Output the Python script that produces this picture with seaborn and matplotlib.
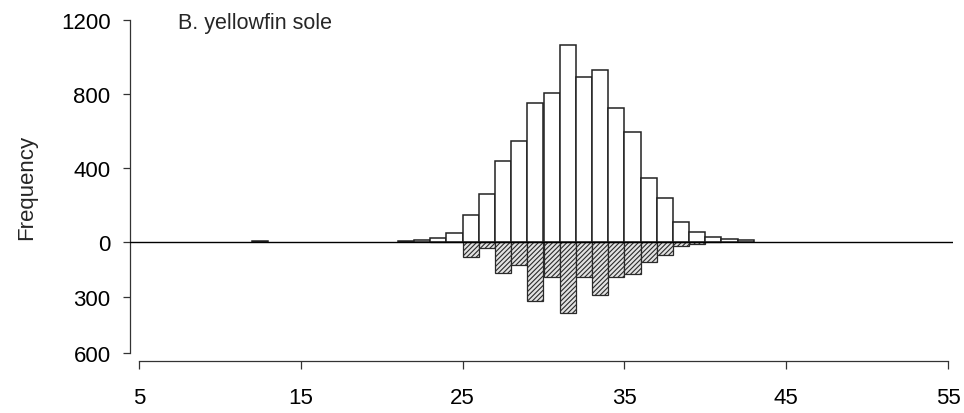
import numpy as np
import pandas as pd
import matplotlib
matplotlib.use("Agg")
import matplotlib.pyplot as plt
import seaborn as sns

# ---- data (length bins, lower edge in cm) ----
upper_len = [12, 21, 22, 23, 24, 25, 26, 27, 28, 29, 30, 31, 32, 33, 34, 35, 36, 37, 38, 39, 40, 41, 42]
upper_n = [3, 2, 8, 18, 45, 144, 257, 437, 544, 752, 804, 1062, 888, 927, 723, 595, 346, 234, 108, 54, 25, 12, 8]

lower_len = [23, 24, 25, 26, 27, 28, 29, 30, 31, 32, 33, 34, 35, 36, 37, 38, 39, 40]
lower_n = [5, 5, 86, 33, 168, 128, 324, 192, 384, 192, 287, 192, 178, 110, 73, 24, 13, 3]

ytick_pos = [1200, 800, 400, 0, -300, -600]
ytick_lab = ["1200", "800", "400", "0", "300", "600"]
xticks = [5, 15, 25, 35, 45, 55]
title = "B. yellowfin sole"

sns.set_theme(style="ticks")
plt.rcParams["font.family"] = ["Liberation Sans", "DejaVu Sans"]
plt.rcParams["hatch.linewidth"] = 0.8

W, H = 964, 414
fig = plt.figure(figsize=(W / 100, H / 100), dpi=100)
ax_l, ax_r = 130, 953
ax_t, ax_b = 20.7, 353.5
ax = fig.add_axes([ax_l / W, 1 - ax_b / H, (ax_r - ax_l) / W, (ax_b - ax_t) / H])

df_up = pd.DataFrame({"x": np.array(upper_len) + 0.5, "n": upper_n})
df_lo = pd.DataFrame({"x": np.array(lower_len) + 0.5, "n": -np.array(lower_n)})

sns.barplot(data=df_up, x="x", y="n", native_scale=True, width=1, color="white",
            saturation=1, edgecolor="#222222", linewidth=1.1, errorbar=None, ax=ax)
sns.barplot(data=df_lo, x="x", y="n", native_scale=True, width=1, color="#e2e2e2",
            saturation=1, edgecolor="#2a2a2a", linewidth=0.9, hatch="///////",
            errorbar=None, ax=ax)

ax.axhline(0, color="black", lw=1.0, zorder=5)

px_per_unit = (948 - 139) / 50
ax.set_xlim(5 - (139 - ax_l) / px_per_unit, 55 + (ax_r - 948) / px_per_unit)
ax.set_ylim(-600, 1200)

ax.set_xticks(xticks)
ax.set_xticklabels([str(t) for t in xticks])
ax.set_yticks(ytick_pos)
ax.set_yticklabels(ytick_lab)

for s in ["top", "right"]:
    ax.spines[s].set_visible(False)
ax.spines["left"].set_bounds(-600, 1200)
ax.spines["bottom"].set_bounds(5, 55)
ax.spines["bottom"].set_position(("outward", 6))
for s in ["left", "bottom"]:
    ax.spines[s].set_color("#333333")
    ax.spines[s].set_linewidth(0.9)

ax.tick_params(axis="y", direction="out", length=5, width=0.9, color="#333333",
               pad=9, labelsize=16, labelcolor="black")
ax.tick_params(axis="x", direction="out", length=5.5, width=0.9, color="#333333",
               pad=13, labelsize=16, labelcolor="black")

ax.set_xlabel("")
ax.set_ylabel("Frequency", fontsize=16)
ax.yaxis.set_label_coords((37 - ax_l) / (ax_r - ax_l), 0.5)

fig.text(178 / W, 1 - 29 / H, title, fontsize=15.5, ha="left", va="baseline")

ax.set_facecolor("white")
fig.savefig("out.png", dpi=100, facecolor="white")
